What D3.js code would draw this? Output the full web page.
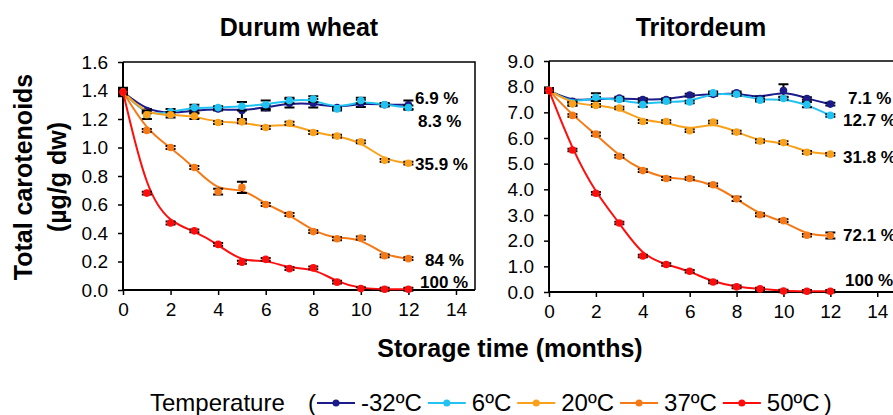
<!DOCTYPE html>
<html>
<head>
<meta charset="utf-8">
<script src="https://cdn.jsdelivr.net/npm/d3@7/dist/d3.min.js"></script>
<style>
  body { margin: 0; background: #fff; }
  text { font-family: "Liberation Sans", Arial, sans-serif; fill: #000; }
</style>
</head>
<body>
<svg id="chart" width="893" height="415"></svg>
<script>
// months on the x axis
var months = [0, 1, 2, 3, 4, 5, 6, 7, 8, 9, 10, 11, 12];
var temperatures = ["-32ºC", "6ºC", "20ºC", "37ºC", "50ºC"];
var colours = ["#1b1b8c", "#22c3f2", "#f9a11b", "#f57a17", "#ff0d0d"];

// Durum wheat, total carotenoids (µg/g dw)
var durumM32 = [1.39, 1.26, 1.24, 1.26, 1.27, 1.26, 1.28, 1.31, 1.31, 1.28, 1.31, 1.30, 1.30];
var durum6   = [1.39, 1.22, 1.25, 1.28, 1.28, 1.29, 1.30, 1.33, 1.34, 1.27, 1.33, 1.30, 1.28];
var durum20  = [1.39, 1.23, 1.23, 1.22, 1.175, 1.18, 1.14, 1.17, 1.105, 1.08, 1.04, 0.91, 0.89];
var durum37  = [1.39, 1.12, 1.00, 0.86, 0.69, 0.72, 0.60, 0.53, 0.41, 0.36, 0.365, 0.24, 0.22];
var durum50  = [1.39, 0.68, 0.47, 0.415, 0.32, 0.195, 0.215, 0.15, 0.155, 0.055, 0.01, 0.005, 0.005];

var durumErrM32 = [0.03, 0.01, 0.01, 0.02, 0.01, 0.06, 0.02, 0.03, 0.03, 0.01, 0.025, 0.01, 0.03];
var durumErr6   = [0.02, 0.02, 0.02, 0.02, 0.01, 0.03, 0.03, 0.02, 0.02, 0.01, 0.02, 0.01, 0.015];
var durumErr20  = [0.02, 0.03, 0.02, 0.02, 0.01, 0.01, 0.01, 0.01, 0.01, 0.01, 0.01, 0.01, 0.01];
var durumErr37  = [0.01, 0.01, 0.01, 0.01, 0.02, 0.04, 0.01, 0.01, 0.01, 0.01, 0.01, 0.01, 0.01];
var durumErr50  = [0.01, 0.01, 0.01, 0.01, 0.01, 0.01, 0.01, 0.01, 0.01, 0.01, 0.01, 0.01, 0.01];

// Tritordeum
var tritM32 = [7.85, 7.43, 7.52, 7.56, 7.50, 7.50, 7.67, 7.70, 7.76, 7.54, 7.85, 7.54, 7.32];
var trit6   = [7.85, 7.34, 7.59, 7.50, 7.30, 7.43, 7.40, 7.76, 7.70, 7.47, 7.54, 7.30, 6.88];
var trit20  = [7.85, 7.33, 7.27, 7.17, 6.64, 6.64, 6.28, 6.62, 6.23, 5.88, 5.82, 5.44, 5.37];
var trit37  = [7.85, 6.88, 6.15, 5.29, 4.73, 4.42, 4.42, 4.18, 3.63, 3.01, 2.78, 2.21, 2.20];
var trit50  = [7.85, 5.53, 3.85, 2.69, 1.40, 1.07, 0.81, 0.39, 0.20, 0.12, 0.04, 0.03, 0.03];

var tritErrM32 = [0.10, 0.05, 0.08, 0.05, 0.05, 0.05, 0.05, 0.05, 0.05, 0.08, 0.24, 0.05, 0.05];
var tritErr6   = [0.10, 0.08, 0.15, 0.05, 0.08, 0.05, 0.05, 0.05, 0.05, 0.05, 0.05, 0.10, 0.05];
var tritErr20  = [0.05, 0.05, 0.05, 0.05, 0.06, 0.05, 0.05, 0.05, 0.05, 0.06, 0.05, 0.05, 0.05];
var tritErr37  = [0.05, 0.05, 0.06, 0.05, 0.05, 0.06, 0.05, 0.05, 0.08, 0.06, 0.05, 0.05, 0.12];
var tritErr50  = [0.05, 0.05, 0.05, 0.05, 0.05, 0.05, 0.05, 0.05, 0.05, 0.05, 0.05, 0.05, 0.05];

var durumLoss = ["6.9 %", "8.3 %", "35.9 %", "84 %", "100 %"];
var tritLoss  = ["7.1 %", "12.7 %", "31.8 %", "72.1 %", "100 %"];

var xTicks = [0, 2, 4, 6, 8, 10, 12, 14];
var durumTicks = [0, 0.2, 0.4, 0.6, 0.8, 1.0, 1.2, 1.4, 1.6];
var tritTicks = [0, 1, 2, 3, 4, 5, 6, 7, 8, 9];

var svg = d3.select("#chart");

// one panel per cereal
var panels = [
  { title: "Durum wheat", series: [durumM32, durum6, durum20, durum37, durum50],
    errors: [durumErrM32, durumErr6, durumErr20, durumErr37, durumErr50],
    loss: durumLoss, ticks: durumTicks, ymax: 1.6,
    left: 123, right: 475, top: 62, bottom: 290, titleX: 299,
    labelX: [415, 418, 415, 425, 420], labelY: [98, 121, 164, 260, 282] },
  { title: "Tritordeum", series: [tritM32, trit6, trit20, trit37, trit50],
    errors: [tritErrM32, tritErr6, tritErr20, tritErr37, tritErr50],
    loss: tritLoss, ticks: tritTicks, ymax: 9,
    left: 549, right: 896, top: 61, bottom: 292, titleX: 701,
    labelX: [848, 843, 843, 843, 845], labelY: [98, 120, 157, 235, 280] }
];

panels.forEach(function(p) {
  var x = d3.scaleLinear().domain([0, 14.8]).range([p.left, p.right]);
  var y = d3.scaleLinear().domain([0, p.ymax]).range([p.bottom, p.top]);
  var g = svg.append("g");

  // frame (top and right edges)
  g.append("path")
    .attr("d", "M" + p.left + "," + p.top + "H" + p.right + "V" + p.bottom)
    .attr("fill", "none").attr("stroke", "#000").attr("stroke-width", 1.5);

  var yAxis = g.append("g")
    .attr("transform", "translate(" + p.left + ",0)")
    .call(d3.axisLeft(y).tickValues(p.ticks).tickSize(5).tickPadding(10)
      .tickFormat(d3.format(".1f")));
  var xAxis = g.append("g")
    .attr("transform", "translate(0," + p.bottom + ")")
    .call(d3.axisBottom(x).tickValues(xTicks).tickSize(5).tickPadding(8)
      .tickFormat(d3.format("d")));
  [xAxis, yAxis].forEach(function(a) {
    a.select(".domain").attr("stroke-width", 2);
    a.selectAll(".tick line").attr("stroke-width", 1.5);
    a.selectAll("text").style("font-size", "19px")
      .style("font-family", "'Liberation Sans', Arial, sans-serif");
  });
  // axis lines run to the frame corners, no outer ticks
  xAxis.select(".domain").attr("d", "M" + p.left + ",0H" + p.right);
  yAxis.select(".domain").attr("d", "M0," + p.bottom + "V" + p.top);

  g.append("text")
    .attr("x", p.titleX).attr("y", 36)
    .attr("text-anchor", "middle")
    .style("font-size", "25px").style("font-weight", "bold")
    .text(p.title);

  var line = d3.line()
    .x(function(d, i) { return x(months[i]); })
    .y(function(d) { return y(d); })
    .curve(d3.curveBasis);

  p.series.forEach(function(vals, s) {
    var sg = g.append("g");
    sg.append("path")
      .datum(vals)
      .attr("d", line)
      .attr("fill", "none")
      .attr("stroke", colours[s])
      .attr("stroke-width", 2);

    // error bars
    sg.selectAll(".err").data(vals).enter().append("path")
      .attr("d", function(d, i) {
        var cx = x(months[i]);
        var y1 = y(d + p.errors[s][i]), y2 = y(d - p.errors[s][i]);
        return "M" + (cx - 5) + "," + y1 + "H" + (cx + 5) +
               "M" + cx + "," + y1 + "V" + y2 +
               "M" + (cx - 5) + "," + y2 + "H" + (cx + 5);
      })
      .attr("fill", "none").attr("stroke", "#000").attr("stroke-width", 2);

    sg.selectAll(".pt").data(vals).enter().append("circle")
      .attr("cx", function(d, i) { return x(months[i]); })
      .attr("cy", function(d) { return y(d); })
      .attr("r", 3.8)
      .attr("fill", colours[s]);
  });

  p.loss.forEach(function(t, s) {
    g.append("text")
      .attr("x", p.labelX[s]).attr("y", p.labelY[s])
      .attr("dy", "0.35em")
      .style("font-size", "17px").style("font-weight", "bold")
      .text(t);
  });
});

// y axis title
var yt = svg.append("text")
  .attr("transform", "translate(0,177) rotate(-90)")
  .attr("text-anchor", "middle")
  .style("font-size", "25px").style("font-weight", "bold");
yt.append("tspan").attr("x", 0).attr("y", 32).text("Total carotenoids");
yt.append("tspan").attr("x", 0).attr("y", 66).text("(µg/g dw)");

svg.append("text")
  .attr("x", 510).attr("y", 357)
  .attr("text-anchor", "middle")
  .style("font-size", "25px").style("font-weight", "bold")
  .text("Storage time (months)");

// legend
var legend = svg.append("g").attr("transform", "translate(0,403)");
function legendText(x, t) {
  var el = legend.append("text")
    .attr("x", x).attr("y", 8)
    .style("font-size", "24px")
    .text(t);
  return el.node().getComputedTextLength();
}
legendText(150, "Temperature");
var lx = 308;
lx += legendText(lx, "(") + 1;
temperatures.forEach(function(t, i) {
  legend.append("line")
    .attr("x1", lx).attr("x2", lx + 38)
    .attr("stroke", colours[i]).attr("stroke-width", 2);
  legend.append("circle").attr("cx", lx + 19).attr("r", 3.5).attr("fill", colours[i]);
  lx += 44;
  lx += legendText(lx, t) + 6;
});
legendText(lx - 2, ")");
</script>
</body>
</html>
